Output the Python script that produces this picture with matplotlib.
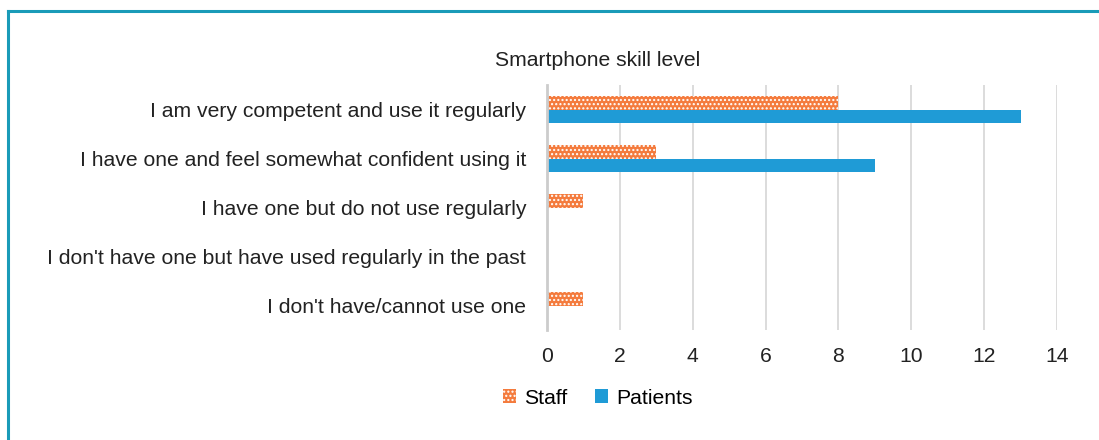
import numpy as np
import matplotlib
matplotlib.use('Agg')
from matplotlib import pyplot as plt
from matplotlib.lines import Line2D

plt.rcParams['font.family'] = ['Liberation Sans', 'DejaVu Sans']
plt.rcParams['hatch.linewidth'] = 1.0

categories = [
    "I am very competent and use it regularly",
    "I have one and feel somewhat confident using it",
    "I have one but do not use regularly",
    "I don't have one but have used regularly in the past",
    "I don't have/cannot use one",
]
staff = [8, 3, 1, 0, 1]
patients = [13, 9, 0, 0, 0]

orange = '#f47b3d'
blue = '#1f9bd6'
fs = 15.2

fig = plt.figure(figsize=(10.99, 4.40), dpi=100)
ax = fig.add_axes([547 / 1099, 1 - 330 / 440, (1057 - 547) / 1099, (330 - 85) / 440])

y = np.arange(len(categories))
h = 0.285
ax.barh(y - h / 2, staff, height=h, color=orange, edgecolor='white',
        hatch='....', linewidth=0, label='Staff', zorder=3)
ax.barh(y + h / 2, patients, height=h, color=blue, linewidth=0,
        label='Patients', zorder=3)

ax.set_xlim(0, 14)
ax.set_ylim(len(categories) - 0.5, -0.5)
ax.set_xticks(range(0, 15, 2))
ax.set_yticks(y)
ax.set_yticklabels(categories)
ax.tick_params(axis='both', length=0, labelsize=fs, colors='#222222')
ax.tick_params(axis='x', pad=12)
ax.tick_params(axis='y', pad=15)
ax.grid(axis='x', color='#d9d9d9', linewidth=1.3, zorder=0)
for s in ['top', 'right', 'bottom']:
    ax.spines[s].set_visible(False)
ax.spines['left'].set_color('#cccccc')
ax.spines['left'].set_linewidth(2)
ax.spines['left'].set_zorder(4)

fig.text(598 / 1099, 1 - 60 / 440, 'Smartphone skill level', ha='center', va='center',
         fontsize=fs, color='#222222')

handles = [
    plt.Rectangle((0, 0), 1, 1, facecolor=orange, edgecolor='white', hatch='....', linewidth=0),
    plt.Rectangle((0, 0), 1, 1, facecolor=blue, linewidth=0),
]
fig.legend(handles, ['Staff', 'Patients'], loc='center', bbox_to_anchor=(598 / 1099, 1 - 398 / 440),
           ncol=2, frameon=False, fontsize=fs, handlelength=0.6, handleheight=0.6,
           handletextpad=0.4, columnspacing=1.3)

# teal frame on top and left
fig.add_artist(Line2D([8 / 1099, 8 / 1099], [0, 1 - 11 / 440], color='#1a9bb8', linewidth=2.2,
                      transform=fig.transFigure))
fig.add_artist(Line2D([8 / 1099, 1], [1 - 11 / 440, 1 - 11 / 440], color='#1a9bb8', linewidth=2.2,
                      transform=fig.transFigure))

fig.savefig('out.png', dpi=100)
